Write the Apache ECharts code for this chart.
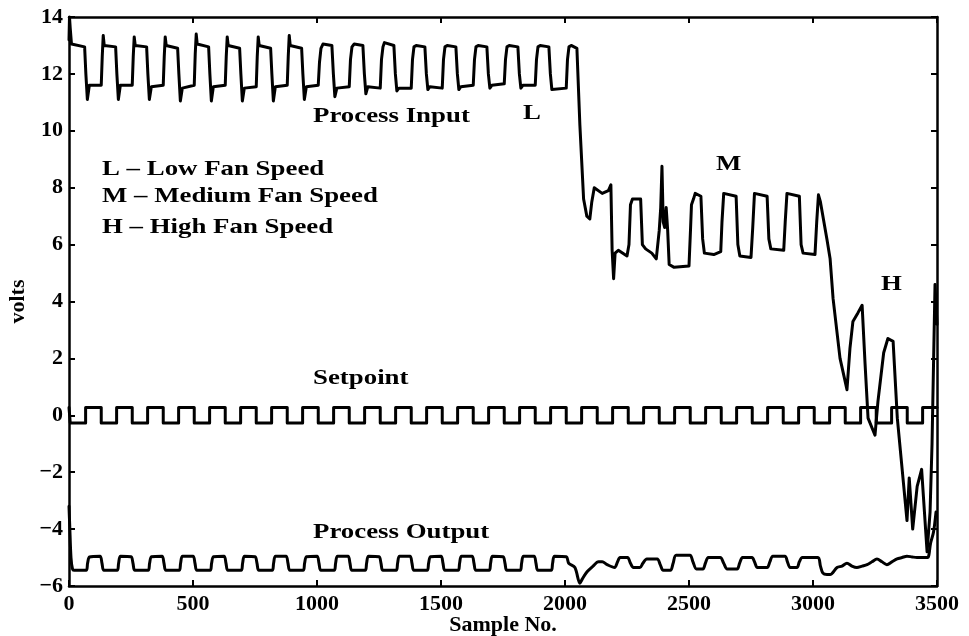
<!DOCTYPE html>
<html>
<head>
<meta charset="utf-8">
<title>Process Input, Setpoint and Process Output</title>
<script src="https://cdn.jsdelivr.net/npm/echarts@6/dist/echarts.min.js"></script>
<style>
  html, body { margin: 0; padding: 0; background: #fff; }
  #chart { width: 969px; height: 636px; }
</style>
</head>
<body>
<div id="chart"></div>
<script>
// Sample numbers and volts, read as [sample, volts] pairs.

// Square-wave setpoint: each pair holds its level until the next sample.
const setpointVolts = [
  [0, 0.27], [5, -0.27], [67, 0.27], [130, -0.27], [192, 0.27], [255, -0.27],
  [317, 0.27], [380, -0.27], [442, 0.27], [505, -0.27], [567, 0.27], [630, -0.27],
  [692, 0.27], [755, -0.27], [817, 0.27], [880, -0.27], [942, 0.27], [1005, -0.27],
  [1067, 0.27], [1130, -0.27], [1192, 0.27], [1255, -0.27], [1317, 0.27], [1380, -0.27],
  [1442, 0.27], [1505, -0.27], [1567, 0.27], [1630, -0.27], [1692, 0.27], [1755, -0.27],
  [1817, 0.27], [1880, -0.27], [1942, 0.27], [2005, -0.27], [2067, 0.27], [2130, -0.27],
  [2192, 0.27], [2255, -0.27], [2317, 0.27], [2380, -0.27], [2442, 0.27], [2505, -0.27],
  [2567, 0.27], [2630, -0.27], [2692, 0.27], [2755, -0.27], [2817, 0.27], [2880, -0.27],
  [2942, 0.27], [3005, -0.27], [3067, 0.27], [3130, -0.27], [3192, 0.27], [3255, -0.27],
  [3317, 0.27], [3380, -0.27], [3442, 0.27], [3500, 0.27]
];

// Controller output driving the process (low, medium and high fan speed).
const inputVolts = [
  [0, 13.2], [2, 14.0], [5, 13.6], [10, 13.05], [63, 12.95], [68, 12.0], [74, 11.1], [82, 11.6], [130, 11.6],
  [134, 12.6], [138, 13.35], [142, 13.0], [188, 12.95], [193, 12.0], [199, 11.1], [207, 11.6], [255, 11.6],
  [259, 12.6], [263, 13.3], [267, 13.0], [313, 12.95], [318, 12.0], [324, 11.1], [332, 11.55], [380, 11.6],
  [384, 12.6], [388, 13.3], [392, 13.0], [438, 12.9], [443, 12.0], [449, 11.05], [457, 11.5], [505, 11.6],
  [509, 12.7], [513, 13.4], [517, 13.05], [563, 12.95], [568, 12.0], [574, 11.05], [582, 11.55], [630, 11.6],
  [634, 12.6], [638, 13.3], [642, 13.0], [688, 12.9], [693, 12.0], [699, 11.05], [707, 11.5], [755, 11.55],
  [759, 12.6], [763, 13.3], [767, 13.0], [813, 12.9], [818, 12.0], [824, 11.05], [832, 11.55], [880, 11.6],
  [884, 12.6], [888, 13.35], [892, 13.0], [938, 12.9], [943, 12.0], [949, 11.1], [957, 11.55], [1005, 11.6],
  [1010, 12.4], [1016, 12.9], [1024, 13.05], [1060, 13.0], [1066, 12.0], [1072, 11.2], [1080, 11.5], [1130, 11.55],
  [1135, 12.5], [1141, 12.95], [1150, 13.05], [1185, 13.0], [1191, 12.0], [1197, 11.3], [1205, 11.55], [1255, 11.5],
  [1260, 12.5], [1266, 12.95], [1272, 13.1], [1310, 13.0], [1316, 12.0], [1322, 11.4], [1330, 11.5], [1380, 11.5],
  [1385, 12.5], [1391, 12.95], [1400, 13.0], [1435, 12.95], [1441, 12.0], [1447, 11.45], [1455, 11.55], [1505, 11.5],
  [1510, 12.5], [1516, 12.95], [1525, 13.0], [1560, 12.95], [1566, 12.0], [1572, 11.45], [1580, 11.55], [1630, 11.6],
  [1635, 12.5], [1641, 12.95], [1650, 13.0], [1685, 12.95], [1691, 12.0], [1697, 11.5], [1705, 11.6], [1755, 11.65],
  [1760, 12.5], [1766, 12.95], [1775, 13.0], [1810, 12.95], [1816, 12.0], [1822, 11.5], [1830, 11.6], [1880, 11.6],
  [1885, 12.5], [1891, 12.95], [1900, 13.0], [1935, 12.95], [1941, 12.0], [1947, 11.45], [1955, 11.5], [2005, 11.5],
  [2010, 12.5], [2016, 12.95], [2025, 13.0], [2048, 12.9],
  [2060, 10.2], [2075, 7.6], [2088, 7.0], [2100, 6.9], [2108, 7.5], [2118, 8.0], [2150, 7.8], [2175, 7.9],
  [2185, 8.1], [2190, 5.8], [2196, 4.8], [2202, 5.7], [2215, 5.8], [2250, 5.6], [2258, 6.0], [2264, 7.4],
  [2272, 7.6], [2305, 7.6], [2312, 6.0], [2325, 5.85], [2350, 5.7], [2368, 5.5], [2380, 6.5], [2386, 7.3],
  [2391, 8.75], [2396, 6.8], [2402, 6.6], [2408, 7.3], [2414, 6.5], [2420, 5.3], [2440, 5.2], [2500, 5.25],
  [2506, 6.5], [2510, 7.4], [2518, 7.6], [2525, 7.8], [2548, 7.7], [2555, 6.2], [2562, 5.7], [2600, 5.65],
  [2628, 5.75], [2633, 6.8], [2640, 7.8], [2690, 7.7], [2697, 6.0], [2705, 5.6], [2750, 5.55], [2757, 6.6],
  [2764, 7.8], [2815, 7.7], [2822, 6.2], [2830, 5.85], [2882, 5.8], [2888, 6.8], [2895, 7.8], [2945, 7.7],
  [2952, 6.0], [2960, 5.7], [3008, 5.65], [3015, 6.8], [3022, 7.75], [3030, 7.5], [3056, 6.2], [3069, 5.5],
  [3081, 4.1], [3109, 2.0], [3137, 0.9], [3149, 2.35], [3161, 3.3], [3181, 3.6], [3198, 3.87], [3210, 1.8],
  [3222, -0.1], [3250, -0.7], [3262, 0.5], [3285, 2.2], [3302, 2.7], [3323, 2.6], [3340, -0.1], [3379, -3.7],
  [3388, -2.2], [3402, -4.0], [3420, -2.5], [3438, -1.9], [3460, -4.8], [3472, -3.4], [3480, -1.0], [3492, 4.6],
  [3500, 3.2]
];

// Measured process output following the setpoint.
const outputVolts = [
  [0, -3.2], [3, -3.9], [8, -5.0], [14, -5.4], [20, -5.45], [69, -5.45], [75, -5.2], [83, -4.98], [125, -4.95],
  [133, -5.2], [141, -5.45], [194, -5.45], [200, -5.2], [208, -4.95], [250, -4.97], [258, -5.2], [266, -5.45],
  [319, -5.45], [325, -5.2], [333, -4.97], [375, -4.95], [383, -5.2], [391, -5.45],
  [444, -5.45], [450, -5.2], [458, -4.95], [500, -4.95], [508, -5.2], [516, -5.45],
  [569, -5.45], [575, -5.2], [583, -4.97], [625, -4.95], [633, -5.2], [641, -5.45],
  [694, -5.45], [700, -5.2], [708, -4.95], [750, -4.97], [758, -5.2], [766, -5.45],
  [819, -5.45], [825, -5.2], [833, -4.95], [875, -4.95], [883, -5.2], [891, -5.45],
  [944, -5.45], [950, -5.2], [958, -4.97], [1000, -4.95], [1008, -5.2], [1016, -5.45],
  [1069, -5.45], [1075, -5.2], [1083, -4.95], [1125, -4.95], [1133, -5.2], [1141, -5.45],
  [1194, -5.45], [1200, -5.2], [1208, -4.95], [1250, -4.97], [1258, -5.2], [1266, -5.45],
  [1319, -5.45], [1325, -5.2], [1333, -4.95], [1375, -4.95], [1383, -5.2], [1391, -5.45],
  [1444, -5.45], [1450, -5.2], [1458, -4.97], [1500, -4.95], [1508, -5.2], [1516, -5.45],
  [1569, -5.45], [1575, -5.2], [1583, -4.95], [1625, -4.95], [1633, -5.2], [1641, -5.45],
  [1694, -5.45], [1700, -5.2], [1708, -4.95], [1750, -4.97], [1758, -5.2], [1766, -5.45],
  [1819, -5.45], [1825, -5.2], [1833, -4.95], [1875, -4.95], [1883, -5.2], [1891, -5.45],
  [1944, -5.45], [1950, -5.2], [1958, -4.95], [2005, -4.97], [2015, -5.2], [2040, -5.35],
  [2060, -5.9], [2070, -5.75], [2089, -5.5], [2113, -5.3], [2135, -5.15], [2150, -5.15], [2170, -5.25],
  [2200, -5.35], [2212, -5.15], [2222, -5.0], [2252, -5.0], [2264, -5.2], [2276, -5.35], [2302, -5.35],
  [2314, -5.2], [2330, -5.05], [2372, -5.05], [2384, -5.25], [2396, -5.45], [2425, -5.45], [2436, -5.2],
  [2448, -4.92], [2504, -4.92], [2516, -5.15], [2530, -5.4], [2556, -5.4], [2566, -5.2], [2578, -5.0],
  [2626, -5.0], [2640, -5.2], [2654, -5.4], [2694, -5.4], [2704, -5.2], [2716, -5.0], [2754, -5.0],
  [2764, -5.15], [2776, -5.35], [2815, -5.35], [2826, -5.15], [2838, -4.95], [2887, -4.95], [2897, -5.15],
  [2908, -5.35], [2935, -5.35], [2945, -5.15], [2957, -5.0], [3020, -5.0], [3030, -5.3], [3040, -5.55],
  [3056, -5.6], [3069, -5.6], [3097, -5.35], [3117, -5.3], [3137, -5.2], [3157, -5.3], [3177, -5.35],
  [3198, -5.3], [3218, -5.25], [3238, -5.15], [3258, -5.05], [3278, -5.15], [3298, -5.25], [3318, -5.15],
  [3339, -5.05], [3359, -5.0], [3379, -4.95], [3400, -4.98], [3419, -5.0], [3440, -5.0], [3462, -5.0],
  [3474, -4.5], [3486, -4.1], [3496, -3.4]
];

// Texts written inside the plot.
const traceNames = ['Process Input', 'Setpoint', 'Process Output'];
const speedKey = ['L \u2013 Low Fan Speed', 'M \u2013 Medium Fan Speed', 'H \u2013 High Fan Speed'];
const speedMarks = ['L', 'M', 'H'];
const axisTitles = { x: 'Sample No.', y: 'volts' };

const FONT = '"Liberation Serif", "Times New Roman", serif';
const INK = '#000';

const chart = echarts.init(document.getElementById('chart'), null, { renderer: 'canvas' });

const tickLabel = {
  color: INK, fontFamily: FONT, fontWeight: 'bold', fontSize: 22
};
const frameLine = { show: true, onZero: false, lineStyle: { color: INK, width: 2.5 } };
const innerTick = { show: true, inside: true, length: 6, lineStyle: { color: INK, width: 2 } };

function minusSign(v) {
  return String(v).replace('-', '\u2212');
}
function plainNumber(v) {
  return String(v);
}

// Text annotation, widened horizontally like the printed serif face.
function note(text, left, midY) {
  return {
    type: 'text',
    x: left, y: midY,
    scaleX: 1.22, scaleY: 1,
    silent: true,
    style: {
      text: text, x: 0, y: 0,
      fill: INK,
      font: 'bold 22px ' + FONT,
      align: 'left', verticalAlign: 'middle'
    }
  };
}

function lineSeries(name, data, extra) {
  return Object.assign({
    name: name,
    type: 'line',
    data: data,
    showSymbol: false,
    symbol: 'none',
    clip: true,
    lineStyle: { color: INK, width: 3, join: 'round', cap: 'round' },
    emphasis: { disabled: true },
    z: 3
  }, extra || {});
}

chart.setOption({
  animation: false,
  backgroundColor: '#fff',
  grid: {
    left: 69, right: 32, top: 17, bottom: 50,
    containLabel: false, outerBoundsMode: 'none'
  },
  xAxis: [
    {
      type: 'value', min: 0, max: 3500, interval: 500, position: 'bottom',
      name: axisTitles.x, nameLocation: 'middle', nameGap: 28, nameMoveOverlap: false,
      nameTextStyle: { color: INK, fontFamily: FONT, fontWeight: 'bold', fontSize: 22 },
      axisLine: frameLine, axisTick: innerTick, splitLine: { show: false },
      axisLabel: Object.assign({ margin: 7, formatter: plainNumber }, tickLabel)
    },
    {
      type: 'value', min: 0, max: 3500, interval: 500, position: 'top',
      axisLine: frameLine, axisTick: innerTick, splitLine: { show: false },
      axisLabel: { show: false }
    }
  ],
  yAxis: [
    {
      type: 'value', min: -6, max: 14, interval: 2, position: 'left',
      name: axisTitles.y, nameLocation: 'middle', nameGap: 40, nameRotate: 90,
      nameMoveOverlap: false,
      nameTextStyle: { color: INK, fontFamily: FONT, fontWeight: 'bold', fontSize: 22 },
      axisLine: frameLine, axisTick: innerTick, splitLine: { show: false },
      axisLabel: Object.assign({ margin: 6, formatter: minusSign }, tickLabel)
    },
    {
      type: 'value', min: -6, max: 14, interval: 2, position: 'right',
      axisLine: frameLine, axisTick: innerTick, splitLine: { show: false },
      axisLabel: { show: false }
    }
  ],
  series: [
    lineSeries(traceNames[1], setpointVolts, { step: 'end' }),
    lineSeries(traceNames[0], inputVolts),
    lineSeries(traceNames[2], outputVolts, { smooth: 0.3 })
  ],
  graphic: [
    note(traceNames[0], 313, 116),
    note(speedMarks[0], 523, 113),
    note(speedKey[0], 102, 169),
    note(speedKey[1], 102, 196),
    note(speedKey[2], 102, 227),
    note(speedMarks[1], 716, 164),
    note(speedMarks[2], 881, 284),
    note(traceNames[1], 313, 378),
    note(traceNames[2], 313, 532)
  ]
});
</script>
</body>
</html>
